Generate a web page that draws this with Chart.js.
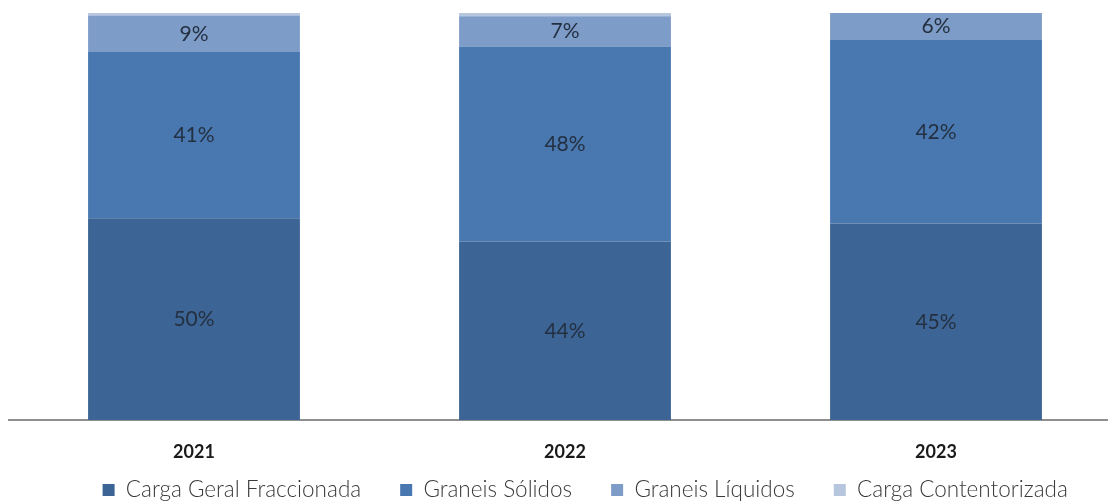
<!DOCTYPE html>
<html>
<head>
<meta charset="utf-8">
<script src="https://cdn.jsdelivr.net/npm/chart.js@4.4.1/dist/chart.umd.min.js"></script>
<style>
  body { margin: 0; background: #fff; }
  .wrap { width: 1108px; height: 502px; overflow: hidden; }
</style>
</head>
<body>
<div class="wrap">
  <canvas id="myChart" width="1162" height="502"></canvas>
</div>
<script>
// data (percent shares, as labelled)
const years = ['2021', '2022', '2023'];
const cargaGeral = [49.6, 43.8, 45];
const graneisSolidos = [40.9, 47.9, 42];
const graneisLiquidos = [9, 7.4, 6.2];
const cargaContentorizada = [0.6, 0.8, 0];

const seriesNames = ['Carga Geral Fraccionada', 'Graneis Sólidos', 'Graneis Líquidos', 'Carga Contentorizada'];
const seriesColors = ['#3C6494', '#4878AF', '#7E9CC8', '#B7C6DF'];
const rawSeries = [cargaGeral, graneisSolidos, graneisLiquidos, cargaContentorizada];

// 100% stacked: each column scaled to its own total
const totals = years.map((y, i) => rawSeries.reduce((s, arr) => s + arr[i], 0));

const labelPlugin = {
    id: 'segmentLabels',
    afterLayout(chart) {
        // let the year labels draw below the (short) x axis box
        chart.scales.x.bottom = chart.height;
    },
    afterDatasetsDraw(chart) {
        const ctx = chart.ctx;
        ctx.save();
        ctx.font = '21px Lato';
        ctx.fillStyle = '#243041';
        ctx.textAlign = 'center';
        ctx.textBaseline = 'middle';
        chart.data.datasets.forEach((ds, i) => {
            const meta = chart.getDatasetMeta(i);
            meta.data.forEach((bar, j) => {
                const raw = ds.raw[j];
                if (raw < 2) return;
                const p = bar.getProps(['x', 'y', 'base'], true);
                ctx.fillText(Math.round(raw) + '%', p.x, (p.y + p.base) / 2);
            });
        });
        ctx.restore();
    }
};

const myChartRef = document.getElementById('myChart').getContext('2d');

new Chart(myChartRef, {
    type: 'bar',
    data: {
        labels: years,
        datasets: rawSeries.map((arr, i) => ({
            label: seriesNames[i],
            raw: arr,
            data: arr.map((v, j) => v / totals[j] * 100),
            backgroundColor: seriesColors[i],
            borderWidth: 0,
            barPercentage: 0.571,
            categoryPercentage: 1
        }))
    },
    options: {
        responsive: false,
        animation: false,
        layout: { padding: { top: 13, left: 8.5, right: 0, bottom: 0 } },
        scales: {
            x: {
                stacked: true,
                grid: { display: false, drawTicks: false },
                border: { color: '#8f8f8f', width: 2 },
                ticks: { padding: 21, color: '#1a1a1a', font: { family: 'Lato', size: 18, weight: 'bold' } },
                afterFit(s) { s.height = 19.75; }
            },
            y: {
                stacked: true,
                position: 'right',
                min: 0,
                max: 100,
                grid: { display: false },
                border: { display: false },
                ticks: { display: false },
                afterFit(s) { s.width = 40.5; }
            }
        },
        plugins: {
            tooltip: { enabled: false },
            legend: {
                position: 'bottom',
                maxHeight: 62.25,
                labels: {
                    boxWidth: 12,
                    boxHeight: 12,
                    padding: 39,
                    color: '#3a3a3a',
                    font: { family: 'Lato', size: 22.5, weight: '300' }
                }
            }
        }
    },
    plugins: [labelPlugin]
});
</script>
</body>
</html>
